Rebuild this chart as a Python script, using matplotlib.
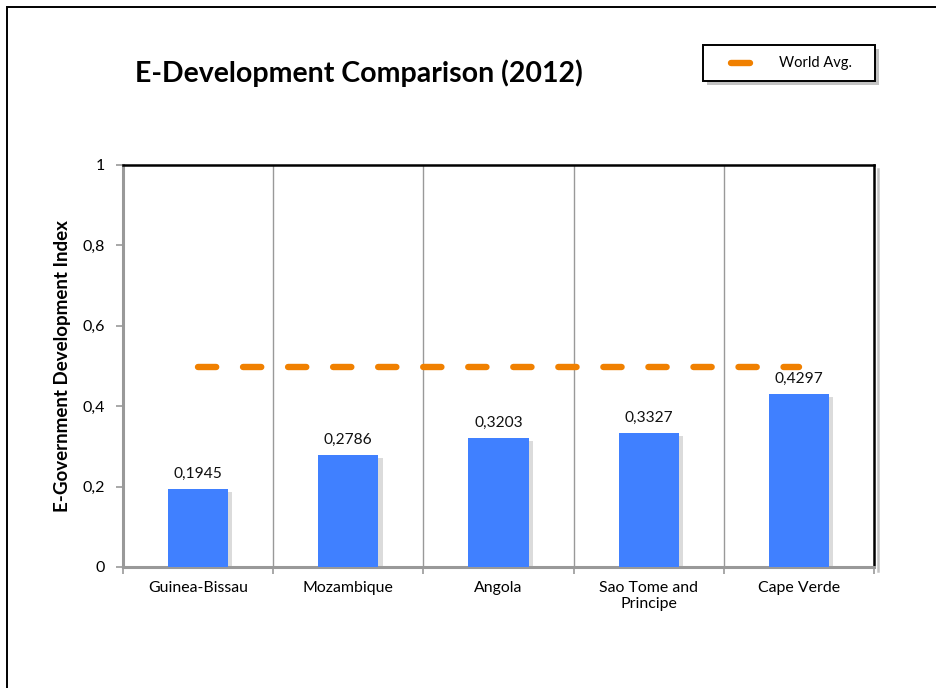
import matplotlib
matplotlib.use("Agg")
import matplotlib.pyplot as plt
import matplotlib.patheffects as pe
from matplotlib.lines import Line2D
from matplotlib.patches import Rectangle
import numpy as np

plt.rcParams['font.family'] = ['Lato', 'DejaVu Sans']

countries = ["Guinea-Bissau", "Mozambique", "Angola", "Sao Tome and\nPrincipe", "Cape Verde"]
egdi = [0.1945, 0.2786, 0.3203, 0.3327, 0.4297]
world_avg = 0.497
y_ticks = [0, 0.2, 0.4, 0.6, 0.8, 1]
y_tick_labels = ["0", "0,2", "0,4", "0,6", "0,8", "1"]
value_labels = ["0,1945", "0,2786", "0,3203", "0,3327", "0,4297"]

W, H = 937, 688
fig = plt.figure(figsize=(W / 100, H / 100), dpi=100)

# outer frame of the chart area
fig.patches.append(Rectangle((7 / W, -0.1), 1.2, 1 - 7 / H + 0.1, transform=fig.transFigure,
                             fill=False, edgecolor='black', linewidth=1.4))

ax = fig.add_axes([123 / W, 1 - 567 / H, (874 - 123) / W, (567 - 165) / H])
x = np.arange(len(countries))

bar_shadow = [pe.SimplePatchShadow(offset=(3, -2), shadow_rgbFace='#9a9a9a', alpha=0.35), pe.Normal()]
bars = ax.bar(x, egdi, width=0.4, color='#4080FF', zorder=3)
for b in bars:
    b.set_path_effects(bar_shadow)

for xi, v, lab in zip(x, egdi, value_labels):
    ax.annotate(lab, (xi, v), xytext=(0, 6), textcoords='offset points',
                ha='center', va='bottom', fontsize=11.2, color='#111111')

ax.plot([x[0], x[-1]], [world_avg, world_avg], color='#F08000', linewidth=4.6,
        dashes=(2.85, 4.2), dash_capstyle='round', zorder=4)

ax.set_xlim(-0.5, len(countries) - 0.5)
ax.set_ylim(0, 1)

# category separators
for sep in np.arange(0.5, len(countries) - 0.5, 1.0):
    ax.axvline(sep, color='#999999', linewidth=1.0, zorder=1)

ax.set_yticks(y_ticks)
ax.set_yticklabels(y_tick_labels, fontsize=11.5)
ax.set_xticks(np.arange(-0.5, len(countries), 1.0))
ax.set_xticklabels([])
ax.set_xticks(x, minor=True)
ax.set_xticklabels(countries, minor=True, fontsize=11.4)
ax.tick_params(axis='x', which='minor', length=0, pad=10)
ax.tick_params(axis='x', which='major', length=5, color='#999999', width=1.2)
ax.tick_params(axis='y', length=5, color='#999999', width=1.2, pad=8)

for s in ('left', 'bottom'):
    ax.spines[s].set_color('#999999')
    ax.spines[s].set_linewidth(2.2)
for s in ('top', 'right'):
    ax.spines[s].set_color('black')
    ax.spines[s].set_linewidth(1.8)
ax.spines['right'].set_path_effects([pe.SimpleLineShadow(offset=(3, -3), shadow_color='#888888', alpha=0.5),
                                     pe.Normal()])

ax.set_ylabel("E-Government Development Index", fontsize=13.5, fontweight='bold', labelpad=8)

fig.text(135 / W, 1 - 73 / H, "E-Development Comparison (2012)", fontsize=20.5,
         fontweight='bold', ha='left', va='center')

# legend box
lx0, lx1, ly0, ly1 = 703, 875, 45, 81
legbox = Rectangle((lx0 / W, 1 - ly1 / H), (lx1 - lx0) / W, (ly1 - ly0) / H,
                   transform=fig.transFigure, facecolor='white', edgecolor='black', linewidth=1.4,
                   path_effects=[pe.SimplePatchShadow(offset=(3, -3), shadow_rgbFace='#888888', alpha=0.5),
                                 pe.Normal()])
fig.patches.append(legbox)
fig.lines.append(Line2D([731 / W, 750 / W], [1 - 63 / H, 1 - 63 / H], transform=fig.transFigure,
                        color='#F08000', linewidth=4.6, solid_capstyle='round'))
fig.text(779 / W, 1 - 63 / H, "World Avg.", fontsize=10.5, ha='left', va='center')

fig.savefig("out.png", dpi=100)
